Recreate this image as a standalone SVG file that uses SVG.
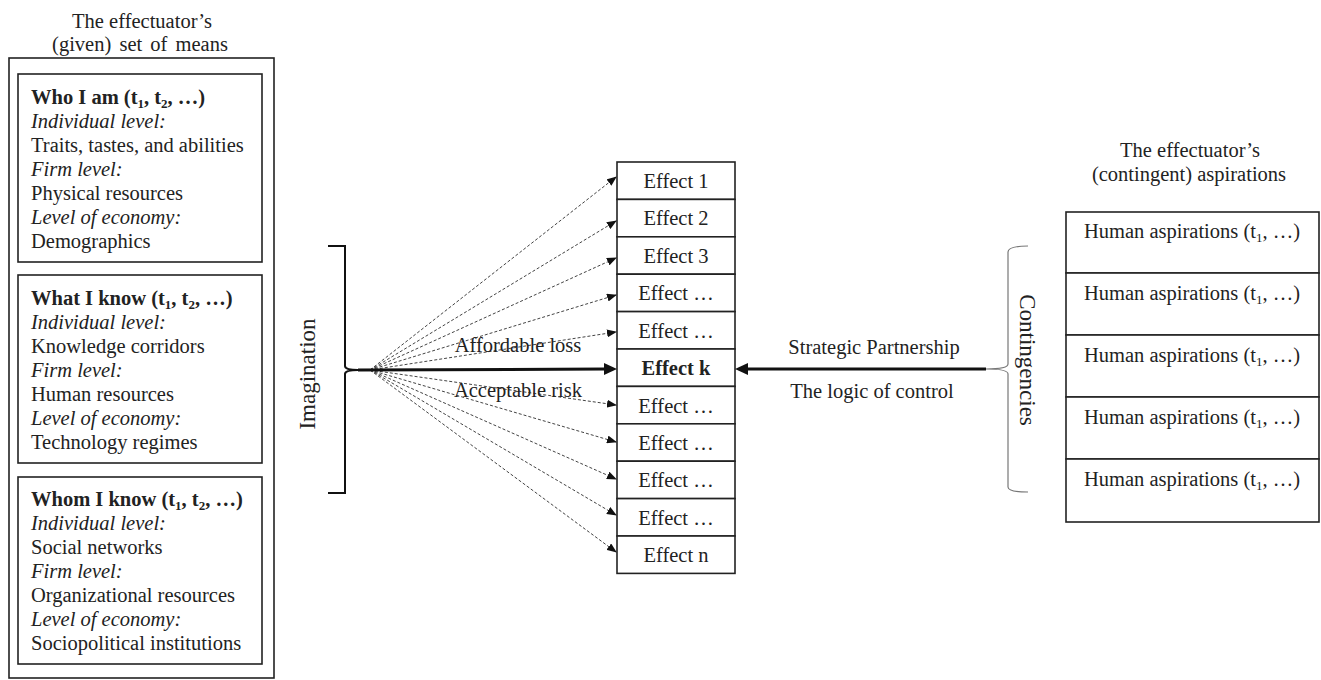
<svg xmlns="http://www.w3.org/2000/svg" width="1321" height="680" viewBox="0 0 1321 680">
<style>
text{font-family:"Liberation Serif","Times New Roman",serif;fill:#222;}
.t{font-size:20.5px;}
.b{font-weight:bold;}
.i{font-style:italic;}
.box{fill:#fff;stroke:#222;stroke-width:1.6;}
.eff{font-size:20.5px;text-anchor:middle;}
.lbl{font-size:20.5px;text-anchor:middle;}
.dash{stroke:#444;stroke-width:1;stroke-dasharray:3 2;fill:none;}
.c{text-anchor:middle;}
.sub{font-size:13px;}
</style>
<defs>
<marker id="ah" markerWidth="10" markerHeight="8" refX="9" refY="4" orient="auto" markerUnits="userSpaceOnUse">
<path d="M0,0 L10,4 L0,8 z" fill="#111"/>
</marker>
</defs>

<g id="means">
<text class="t c" x="142" y="28">The effectuator’s</text>
<text class="t c" x="140" y="51" word-spacing="3">(given) set of means</text>
<rect class="box" x="9" y="58" width="265" height="620"/>
</g>

<g id="who-i-am">
<rect class="box" x="18" y="74" width="244" height="188"/>
<text class="t" x="31" y="104"><tspan class="b">Who I am (t<tspan class="sub" dy="4">1</tspan><tspan dy="-4">, t</tspan><tspan class="sub" dy="4">2</tspan><tspan dy="-4">, …)</tspan></tspan></text>
<text class="t i" x="31" y="128">Individual level:</text>
<text class="t" x="31" y="152">Traits, tastes, and abilities</text>
<text class="t i" x="31" y="176">Firm level:</text>
<text class="t" x="31" y="200">Physical resources</text>
<text class="t i" x="31" y="224">Level of economy:</text>
<text class="t" x="31" y="248">Demographics</text>
</g>

<g id="what-i-know">
<rect class="box" x="18" y="275" width="244" height="188"/>
<text class="t" x="31" y="305"><tspan class="b">What I know (t<tspan class="sub" dy="4">1</tspan><tspan dy="-4">, t</tspan><tspan class="sub" dy="4">2</tspan><tspan dy="-4">, …)</tspan></tspan></text>
<text class="t i" x="31" y="329">Individual level:</text>
<text class="t" x="31" y="353">Knowledge corridors</text>
<text class="t i" x="31" y="377">Firm level:</text>
<text class="t" x="31" y="401">Human resources</text>
<text class="t i" x="31" y="425">Level of economy:</text>
<text class="t" x="31" y="449">Technology regimes</text>
</g>

<g id="whom-i-know">
<rect class="box" x="18" y="477" width="244" height="187"/>
<text class="t" x="31" y="506"><tspan class="b">Whom I know (t<tspan class="sub" dy="4">1</tspan><tspan dy="-4">, t</tspan><tspan class="sub" dy="4">2</tspan><tspan dy="-4">, …)</tspan></tspan></text>
<text class="t i" x="31" y="530">Individual level:</text>
<text class="t" x="31" y="554">Social networks</text>
<text class="t i" x="31" y="578">Firm level:</text>
<text class="t" x="31" y="602">Organizational resources</text>
<text class="t i" x="31" y="626">Level of economy:</text>
<text class="t" x="31" y="650">Sociopolitical institutions</text>
</g>

<g id="imagination">
<path d="M328,246 L345,246 L345,366 Q345,370 358,370 Q345,370 345,374 L345,493 L328,493" fill="none" stroke="#111" stroke-width="2"/>
<text class="c" font-size="23" transform="translate(315,374) rotate(-90)">Imagination</text>
</g>

<g id="effects">
<rect class="box" x="617" y="162" width="118" height="37.4"/><text class="eff" x="676" y="188">Effect 1</text>
<rect class="box" x="617" y="199.4" width="118" height="37.4"/><text class="eff" x="676" y="225">Effect 2</text>
<rect class="box" x="617" y="236.8" width="118" height="37.4"/><text class="eff" x="676" y="263">Effect 3</text>
<rect class="box" x="617" y="274.2" width="118" height="37.4"/><text class="eff" x="676" y="300">Effect …</text>
<rect class="box" x="617" y="311.6" width="118" height="37.4"/><text class="eff" x="676" y="338">Effect …</text>
<rect class="box" x="617" y="349" width="118" height="37.4"/><text class="eff b" x="676" y="375">Effect k</text>
<rect class="box" x="617" y="386.4" width="118" height="37.4"/><text class="eff" x="676" y="413">Effect …</text>
<rect class="box" x="617" y="423.8" width="118" height="37.4"/><text class="eff" x="676" y="450">Effect …</text>
<rect class="box" x="617" y="461.2" width="118" height="37.4"/><text class="eff" x="676" y="487">Effect …</text>
<rect class="box" x="617" y="498.6" width="118" height="37.4"/><text class="eff" x="676" y="525">Effect …</text>
<rect class="box" x="617" y="536" width="118" height="37.4"/><text class="eff" x="676" y="562">Effect n</text>
</g>

<g id="contingencies">
<path d="M1028,246 Q1008,246 1008,252 L1008,364 Q1008,369 986,369 Q1008,369 1008,374 L1008,487 Q1008,492 1028,492" fill="none" stroke="#777" stroke-width="1.2"/>
<text class="c" font-size="23" transform="translate(1020,360) rotate(90)">Contingencies</text>
</g>

<g id="aspirations">
<text class="t c" x="1190" y="157">The effectuator’s</text>
<text class="t c" x="1189" y="181">(contingent) aspirations</text>
<rect class="box" x="1066" y="212" width="253" height="61"/><text class="t c" x="1192" y="238">Human aspirations (t<tspan class="sub" dy="4">1</tspan><tspan dy="-4">, …)</tspan></text>
<rect class="box" x="1066" y="273" width="253" height="62"/><text class="t c" x="1192" y="300">Human aspirations (t<tspan class="sub" dy="4">1</tspan><tspan dy="-4">, …)</tspan></text>
<rect class="box" x="1066" y="335" width="253" height="62"/><text class="t c" x="1192" y="362">Human aspirations (t<tspan class="sub" dy="4">1</tspan><tspan dy="-4">, …)</tspan></text>
<rect class="box" x="1066" y="397" width="253" height="62"/><text class="t c" x="1192" y="424">Human aspirations (t<tspan class="sub" dy="4">1</tspan><tspan dy="-4">, …)</tspan></text>
<rect class="box" x="1066" y="459" width="253" height="63"/><text class="t c" x="1192" y="486">Human aspirations (t<tspan class="sub" dy="4">1</tspan><tspan dy="-4">, …)</tspan></text>
</g>

<g id="connectors">
<line class="dash" x1="370" y1="370" x2="616" y2="177" marker-end="url(#ah)"/>
<line class="dash" x1="370" y1="370" x2="616" y2="221" marker-end="url(#ah)"/>
<line class="dash" x1="370" y1="370" x2="616" y2="258" marker-end="url(#ah)"/>
<line class="dash" x1="370" y1="370" x2="616" y2="295" marker-end="url(#ah)"/>
<line class="dash" x1="370" y1="370" x2="616" y2="332" marker-end="url(#ah)"/>
<line class="dash" x1="370" y1="370" x2="616" y2="405" marker-end="url(#ah)"/>
<line class="dash" x1="370" y1="370" x2="616" y2="442" marker-end="url(#ah)"/>
<line class="dash" x1="370" y1="370" x2="616" y2="479" marker-end="url(#ah)"/>
<line class="dash" x1="370" y1="370" x2="616" y2="515" marker-end="url(#ah)"/>
<line class="dash" x1="370" y1="370" x2="616" y2="552" marker-end="url(#ah)"/>
<line x1="358" y1="370" x2="605" y2="369" stroke="#111" stroke-width="3"/>
<path d="M617,369 L604,363 L604,375 z" fill="#111"/>
<line x1="986" y1="369" x2="747" y2="369" stroke="#111" stroke-width="3"/>
<path d="M735,369 L748,363 L748,375 z" fill="#111"/>
<text class="lbl" x="518" y="352">Affordable loss</text>
<text class="lbl" x="518" y="397">Acceptable risk</text>
<text class="lbl" x="874" y="354">Strategic Partnership</text>
<text class="lbl" x="872" y="398">The logic of control</text>
</g>
</svg>
